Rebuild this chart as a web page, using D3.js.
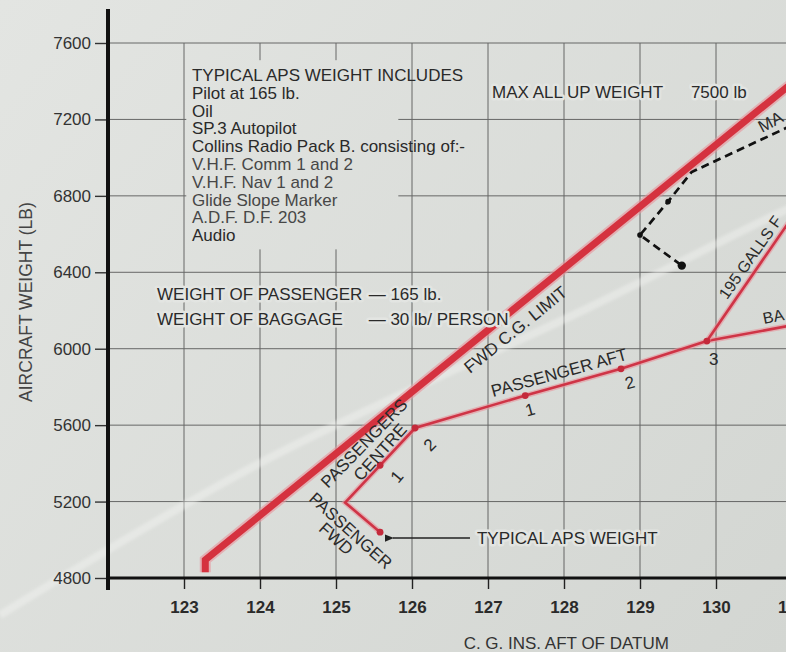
<!DOCTYPE html>
<html><head><meta charset="utf-8">
<script src="https://cdn.jsdelivr.net/npm/d3@7"></script>
<style>
html,body{margin:0;padding:0;background:#dcdfdb;overflow:hidden;}
svg{display:block;font-family:"Liberation Sans",Arial,Helvetica,sans-serif;}
</style>
</head><body>
<svg id="chart" width="786" height="652"></svg>
<script>
// ---------- data ----------
const cgTicks = [123, 124, 125, 126, 127, 128, 129, 130, 131];
const weightTicks = [4800, 5200, 5600, 6000, 6400, 6800, 7200, 7600];

// forward C.G. limit (thick red)
const fwdLimitCG     = [123.28, 123.28, 131.34];
const fwdLimitWeight = [4830, 4895, 7500];

// loading line: typical APS weight -> passenger fwd -> centre 1,2 -> aft 1,2,3
const loadCG     = [125.58, 125.12, 125.58, 126.04, 127.49, 128.75, 129.88];
const loadWeight = [5040, 5195, 5390, 5585, 5755, 5895, 6040];
const loadMarked = [true, false, true, true, true, true, true];

// baggage and fuel branches from aft passenger 3
const baggageCG     = [129.88, 131.30];
const baggageWeight = [6040, 6145];
const fuelCG        = [129.88, 131.30];
const fuelWeight    = [6040, 6860];

// dashed black example path
const exampleCG     = [131.30, 129.68, 129.37, 129.00, 129.55];
const exampleWeight = [7225, 6925, 6770, 6595, 6435];

const noteLines = [
  "TYPICAL APS WEIGHT INCLUDES",
  "Pilot at 165 lb.",
  "Oil",
  "SP.3 Autopilot",
  "Collins Radio Pack B. consisting of:-",
  "V.H.F. Comm 1 and 2",
  "V.H.F. Nav 1 and 2",
  "Glide Slope Marker",
  "A.D.F. D.F. 203",
  "Audio"
];

// ---------- setup ----------
const W = 786, H = 652;
const svg = d3.select("#chart");
const x = d3.scaleLinear().domain([122, 130]).range([108, 716]);
const y = d3.scaleLinear().domain([4800, 7600]).range([578, 43]);
const zip = (a, b) => a.map((v, i) => [v, b[i]]);
const line = d3.line().x(d => x(d[0])).y(d => y(d[1]));

const defs = svg.append("defs");
const g0 = defs.append("linearGradient").attr("id", "paper")
  .attr("gradientUnits", "userSpaceOnUse")
  .attr("x1", 0).attr("y1", 0).attr("x2", W).attr("y2", H);
g0.append("stop").attr("offset", 0).attr("stop-color", "#e3e5e2");
g0.append("stop").attr("offset", 1).attr("stop-color", "#d3d6d2");
defs.append("filter").attr("id", "soft")
  .append("feGaussianBlur").attr("stdDeviation", 1.8);
defs.append("marker").attr("id", "arrow").attr("viewBox", "0 0 10 10")
  .attr("refX", 1).attr("refY", 5).attr("markerWidth", 9).attr("markerHeight", 9)
  .attr("markerUnits", "userSpaceOnUse").attr("orient", "auto-start-reverse")
  .append("path").attr("d", "M10,1 L0,5 L10,9 Z").attr("fill", "#222");

svg.append("rect").attr("width", W).attr("height", H).attr("fill", "url(#paper)");

// ---------- grid ----------
const grid = svg.append("g").attr("stroke", "#3f3f3f").attr("stroke-width", 1).attr("opacity", 0.75);
grid.selectAll("line.h").data(weightTicks).join("line").attr("class", "h")
  .attr("x1", x(122)).attr("x2", W + 10)
  .attr("y1", d => y(d)).attr("y2", d => y(d));
grid.selectAll("line.v").data(cgTicks).join("line").attr("class", "v")
  .attr("x1", d => x(d)).attr("x2", d => x(d))
  .attr("y1", y(7600)).attr("y2", y(4800));

// fold streak in the paper
svg.append("path")
  .datum([[120.58, 4606], [124.0, 5402], [128.34, 6218], [130.92, 6726], [131.4, 6800]])
  .attr("d", d3.line().curve(d3.curveCatmullRom).x(d => x(d[0])).y(d => y(d[1])))
  .attr("fill", "none").attr("stroke", "#f4f5f3").attr("stroke-width", 8)
  .attr("opacity", 0.42).attr("filter", "url(#soft)");

// clear area behind the note block
svg.append("rect")
  .attr("x", x(123.03)).attr("y", y(7510))
  .attr("width", x(125.82) - x(123.03)).attr("height", y(6520) - y(7510))
  .attr("fill", "url(#paper)");

// ---------- axes ----------
const yAxis = svg.append("g").attr("transform", `translate(${x(122)},0)`)
  .call(d3.axisLeft(y).tickValues(weightTicks).tickSize(13).tickPadding(4).tickFormat(d3.format("d")));
yAxis.select(".domain").remove();
yAxis.selectAll(".tick line").attr("stroke", "#333").attr("stroke-width", 1.4);
yAxis.selectAll(".tick text").attr("font-family", null).attr("font-size", 17).attr("fill", "#333");

// the sheet is cut just past 131: only its leading "1" shows at the edge
const lastCG = cgTicks[cgTicks.length - 1];
const xAxis = svg.append("g").attr("transform", `translate(0,${y(4800)})`)
  .call(d3.axisBottom(x).tickValues(cgTicks).tickSize(11).tickPadding(12)
    .tickFormat(d => d === lastCG ? String(d).charAt(0) : d3.format("d")(d)));
xAxis.select(".domain").remove();
xAxis.selectAll(".tick line").attr("stroke", "#222").attr("stroke-width", 1.4);
xAxis.selectAll(".tick text").attr("font-family", null).attr("font-size", 17)
  .attr("font-weight", "bold").attr("fill", "#2a2a2a");
xAxis.selectAll(".tick").filter(d => d === lastCG).select("text")
  .attr("text-anchor", "start").attr("x", -14.5);

// thick axis lines
svg.append("line").attr("x1", x(122)).attr("x2", x(122)).attr("y1", 9).attr("y2", y(4800) + 12)
  .attr("stroke", "#111").attr("stroke-width", 4);
svg.append("line").attr("x1", x(122) - 2).attr("x2", W + 10).attr("y1", y(4800)).attr("y2", y(4800))
  .attr("stroke", "#111").attr("stroke-width", 3);

// axis titles
svg.append("text").attr("x", x(128.03)).attr("y", H - 3).attr("text-anchor", "middle")
  .attr("font-size", 17).attr("fill", "#333").text("C. G. INS. AFT OF DATUM");
svg.append("text").attr("transform", `translate(32,${y(6244)}) rotate(-90)`)
  .attr("text-anchor", "middle").attr("font-size", 17.5).attr("fill", "#444")
  .text("AIRCRAFT WEIGHT (LB)");

// ---------- red lines ----------
function redPath(pts, wHalo, wMain, col) {
  svg.append("path").datum(pts).attr("d", line).attr("fill", "none")
    .attr("stroke", "#e8939b").attr("stroke-width", wHalo).attr("opacity", 0.6)
    .attr("stroke-linejoin", "miter");
  svg.append("path").datum(pts).attr("d", line).attr("fill", "none")
    .attr("stroke", col).attr("stroke-width", wMain).attr("stroke-linejoin", "miter");
}
redPath(zip(fwdLimitCG, fwdLimitWeight), 11, 7, "#d5323f");
redPath(zip(loadCG, loadWeight), 5.5, 2.6, "#cf3446");
redPath(zip(baggageCG, baggageWeight), 5.5, 2.6, "#cf3446");
redPath(zip(fuelCG, fuelWeight), 5.5, 2.6, "#cf3446");

svg.append("g").selectAll("circle")
  .data(zip(loadCG, loadWeight).filter((d, i) => loadMarked[i]))
  .join("circle").attr("cx", d => x(d[0])).attr("cy", d => y(d[1]))
  .attr("r", 3.4).attr("fill", "#c42a3b");

// dashed example line
const ex = zip(exampleCG, exampleWeight);
svg.append("path").datum(ex).attr("d", line).attr("fill", "none")
  .attr("stroke", "#111").attr("stroke-width", 2.7).attr("stroke-dasharray", "8,5");
svg.append("g").selectAll("circle").data([ex[2], ex[3]]).join("circle")
  .attr("cx", d => x(d[0])).attr("cy", d => y(d[1])).attr("r", 2.8).attr("fill", "#111");
svg.append("circle").attr("cx", x(ex[4][0])).attr("cy", y(ex[4][1])).attr("r", 4.2).attr("fill", "#111");

// ---------- text annotations ----------
const ink = "#2a2a2a";
function label(cg, w, txt, angle, opts = {}) {
  const t = svg.append("text")
    .attr("transform", `translate(${x(cg)},${y(w)}) rotate(${angle || 0})`)
    .attr("font-size", opts.size || 17).attr("fill", opts.fill || ink)
    .attr("text-anchor", opts.anchor || "start")
    .text(txt);
  if (opts.middle) t.attr("dominant-baseline", "central");
  if (opts.halo) t.attr("stroke", "url(#paper)").attr("stroke-width", 5)
    .attr("paint-order", "stroke").attr("stroke-linejoin", "round");
  return t;
}

// note block
const nb = svg.append("text").attr("x", x(123.105)).attr("y", y(7401))
  .attr("font-size", 17).attr("fill", ink);
nb.selectAll("tspan").data(noteLines).join("tspan")
  .attr("x", x(123.105)).attr("dy", (d, i) => i === 0 ? 0 : 17.8)
  .attr("fill", (d, i) => (i >= 5 && i <= 8) ? "#474747" : ink)
  .text(d => d);

label(127.053, 7312, "MAX ALL UP WEIGHT", 0, { halo: true });
label(129.67, 7312, "7500 lb", 0, { halo: true });

label(122.645, 6255, "WEIGHT OF PASSENGER", 0, { halo: true });
label(125.43, 6255, "— 165 lb.", 0, { halo: true });
label(122.645, 6124, "WEIGHT OF BAGGAGE", 0, { halo: true });
label(125.43, 6124, "— 30 lb/ PERSON", 0, { halo: true });

label(126.763, 5868, "FWD C.G. LIMIT", -39);
label(127.066, 5747, "PASSENGER AFT", -15.5);
label(124.895, 5266, "PASSENGERS", -46);
label(125.33, 5302, "CENTRE", -48);
label(124.63, 5208, "PASSENGER", 42);
label(124.76, 5051, "FWD", 42);

label(127.553, 5679, "1", -15, { anchor: "middle", middle: true });
label(128.868, 5821, "2", -15, { anchor: "middle", middle: true });
label(129.97, 5941, "3", 0, { anchor: "middle", middle: true });
label(125.803, 5329, "1", -50, { anchor: "middle", middle: true });
label(126.237, 5496, "2", -45, { anchor: "middle", middle: true });

// labels cut by the right edge of the original sheet: only the visible part
label(130.146, 6254, "195 GALLS F", -55, { size: 16 });
label(130.632, 6129, "BA", -11.3, { size: 16 });
label(130.605, 7129, "MA", -28);

// typical APS weight arrow
svg.append("line")
  .attr("x1", x(126.763)).attr("x2", x(125.75))
  .attr("y1", y(5009)).attr("y2", y(5009))
  .attr("stroke", "#222").attr("stroke-width", 1.6).attr("marker-end", "url(#arrow)");
label(126.855, 4978, "TYPICAL APS WEIGHT", 0, { halo: true });
</script>
</body></html>
